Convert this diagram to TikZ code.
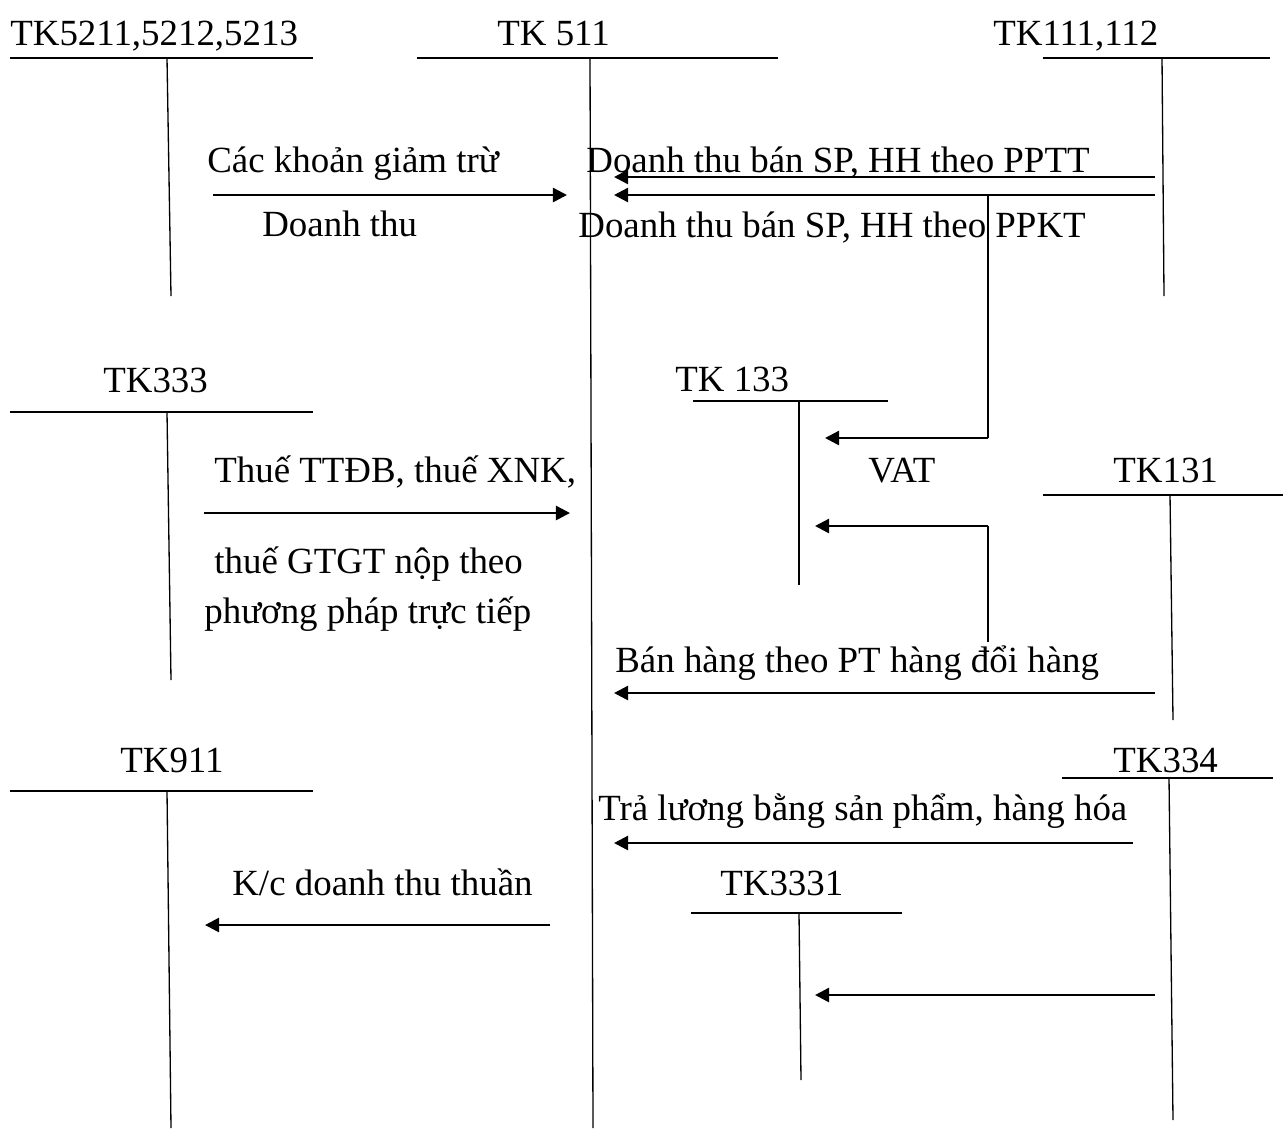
\documentclass[tikz,border=0pt]{standalone}
\usepackage{fontspec}
\setmainfont{Liberation Serif}
\usepackage{tikz}
\usetikzlibrary{arrows.meta, positioning, calc}
\tikzset{
  acct/.style={inner sep=0pt, anchor=base west},
  lbl/.style={inner sep=0pt, anchor=base west},
  tline/.style={line width=0.75pt, color=black},
  arrow/.style={-{Triangle[length=8pt, width=8pt]}, line width=1.4pt, color=black},
  line/.style={line width=1.4pt, color=black}
}

\begin{document}
\begin{tikzpicture}[x=0.02cm, y=-0.02cm, font=\fontsize{21}{25}\selectfont]
  \useasboundingbox (0,0) rectangle (1283,1130);

  % T accounts
  \node[acct] (k521) at (10,45) {TK5211,5212,5213};
  \coordinate (k521l) at (10,58);   \coordinate (k521r) at (313,58);
  \coordinate (k521t) at (167,58);  \coordinate (k521b) at (171,296);
  \draw[tline] (k521l) -- (k521r); \draw[tline] (k521t) -- (k521b);

  \node[acct] (k511) at (497,45) {TK 511};
  \coordinate (k511l) at (417,58);  \coordinate (k511r) at (778,58);
  \coordinate (k511t) at (590,58);  \coordinate (k511b) at (593,1128);
  \draw[tline] (k511l) -- (k511r); \draw[tline] (k511t) -- (k511b);

  \node[acct] (k111) at (993,45) {TK111,112};
  \coordinate (k111l) at (1043,58); \coordinate (k111r) at (1270,58);
  \coordinate (k111t) at (1162,58); \coordinate (k111b) at (1164,296);
  \draw[tline] (k111l) -- (k111r); \draw[tline] (k111t) -- (k111b);

  \node[acct] (k333) at (103,392) {TK333};
  \coordinate (k333l) at (10,412);  \coordinate (k333r) at (313,412);
  \coordinate (k333t) at (167,412); \coordinate (k333b) at (171,680);
  \draw[tline] (k333l) -- (k333r); \draw[tline] (k333t) -- (k333b);

  \node[acct] (k133) at (675,391) {TK 133};
  \coordinate (k133l) at (693,401); \coordinate (k133r) at (888,401);
  \coordinate (k133t) at (799,401); \coordinate (k133b) at (799,585);
  \draw[tline] (k133l) -- (k133r); \draw[tline] (k133t) -- (k133b);

  \node[acct] (k131) at (1113,482) {TK131};
  \coordinate (k131l) at (1043,495); \coordinate (k131r) at (1283,495);
  \coordinate (k131t) at (1170,495); \coordinate (k131b) at (1173,720);
  \draw[tline] (k131l) -- (k131r); \draw[tline] (k131t) -- (k131b);

  \node[acct] (k911) at (120,772) {TK911};
  \coordinate (k911l) at (10,791);  \coordinate (k911r) at (313,791);
  \coordinate (k911t) at (167,791); \coordinate (k911b) at (171,1128);
  \draw[tline] (k911l) -- (k911r); \draw[tline] (k911t) -- (k911b);

  \node[acct] (k334) at (1113,772) {TK334};
  \coordinate (k334l) at (1062,778); \coordinate (k334r) at (1273,778);
  \coordinate (k334t) at (1169,778); \coordinate (k334b) at (1173,1120);
  \draw[tline] (k334l) -- (k334r); \draw[tline] (k334t) -- (k334b);

  \node[acct] (k3331) at (720,895) {TK3331};
  \coordinate (k3331l) at (691,913); \coordinate (k3331r) at (902,913);
  \coordinate (k3331t) at (799,913); \coordinate (k3331b) at (801,1080);
  \draw[tline] (k3331l) -- (k3331r); \draw[tline] (k3331t) -- (k3331b);

  % Arrow ends
  \coordinate (gtS) at (213,195);  \coordinate (gtE) at (567,195);
  \coordinate (ttS) at (1155,177); \coordinate (ttE) at (614,177);
  \coordinate (ktS) at (1155,195); \coordinate (ktE) at (614,195);
  \coordinate (vatA) at (988,195); \coordinate (vatB) at (988,438);
  \coordinate (vatE) at (825,438);
  \coordinate (thS) at (204,513);  \coordinate (thE) at (570,513);
  \coordinate (dhA) at (988,642);  \coordinate (dhB) at (988,526);
  \coordinate (dhE) at (815,526);
  \coordinate (bhS) at (1155,693); \coordinate (bhE) at (614,693);
  \coordinate (tlS) at (1133,843); \coordinate (tlE) at (614,843);
  \coordinate (kcS) at (550,925);  \coordinate (kcE) at (205,925);
  \coordinate (thuS) at (1155,995); \coordinate (thuE) at (815,995);

  % Paths
  \draw[arrow] (gtS) -- (gtE);
  \draw[arrow] (ttS) -- (ttE);
  \draw[arrow] (ktS) -- (ktE);
  \draw[line] (vatA) -- (vatB);
  \draw[arrow] (vatB) -- (vatE);
  \draw[arrow] (thS) -- (thE);
  \draw[line] (dhA) -- (dhB);
  \draw[arrow] (dhB) -- (dhE);
  \draw[arrow] (bhS) -- (bhE);
  \draw[arrow] (tlS) -- (tlE);
  \draw[arrow] (kcS) -- (kcE);
  \draw[arrow] (thuS) -- (thuE);

  % Labels
  \node[lbl] (gt1) at (207,172) {Các khoản giảm trừ};
  \node[lbl] (gt2) at (262,236) {Doanh thu};
  \node[lbl] (tt) at (586,172) {Doanh thu bán SP, HH theo PPTT};
  \node[lbl] (kt) at (578,237) {Doanh thu bán SP, HH theo PPKT};
  \node[lbl] (vat) at (868,482) {VAT};
  \node[lbl] (th1) at (214,482) {Thuế TTĐB, thuế XNK,};
  \node[lbl] (th2) at (214,573) {thuế GTGT nộp theo};
  \node[lbl] (th3) at (204,623) {phương pháp trực tiếp};
  \node[lbl] (bh) at (615,672) {Bán hàng theo PT hàng đổi hàng};
  \node[lbl] (tl) at (598,820) {Trả lương bằng sản phẩm, hàng hóa};
  \node[lbl] (kc) at (232,895) {K/c doanh thu thuần};
\end{tikzpicture}
\end{document}
